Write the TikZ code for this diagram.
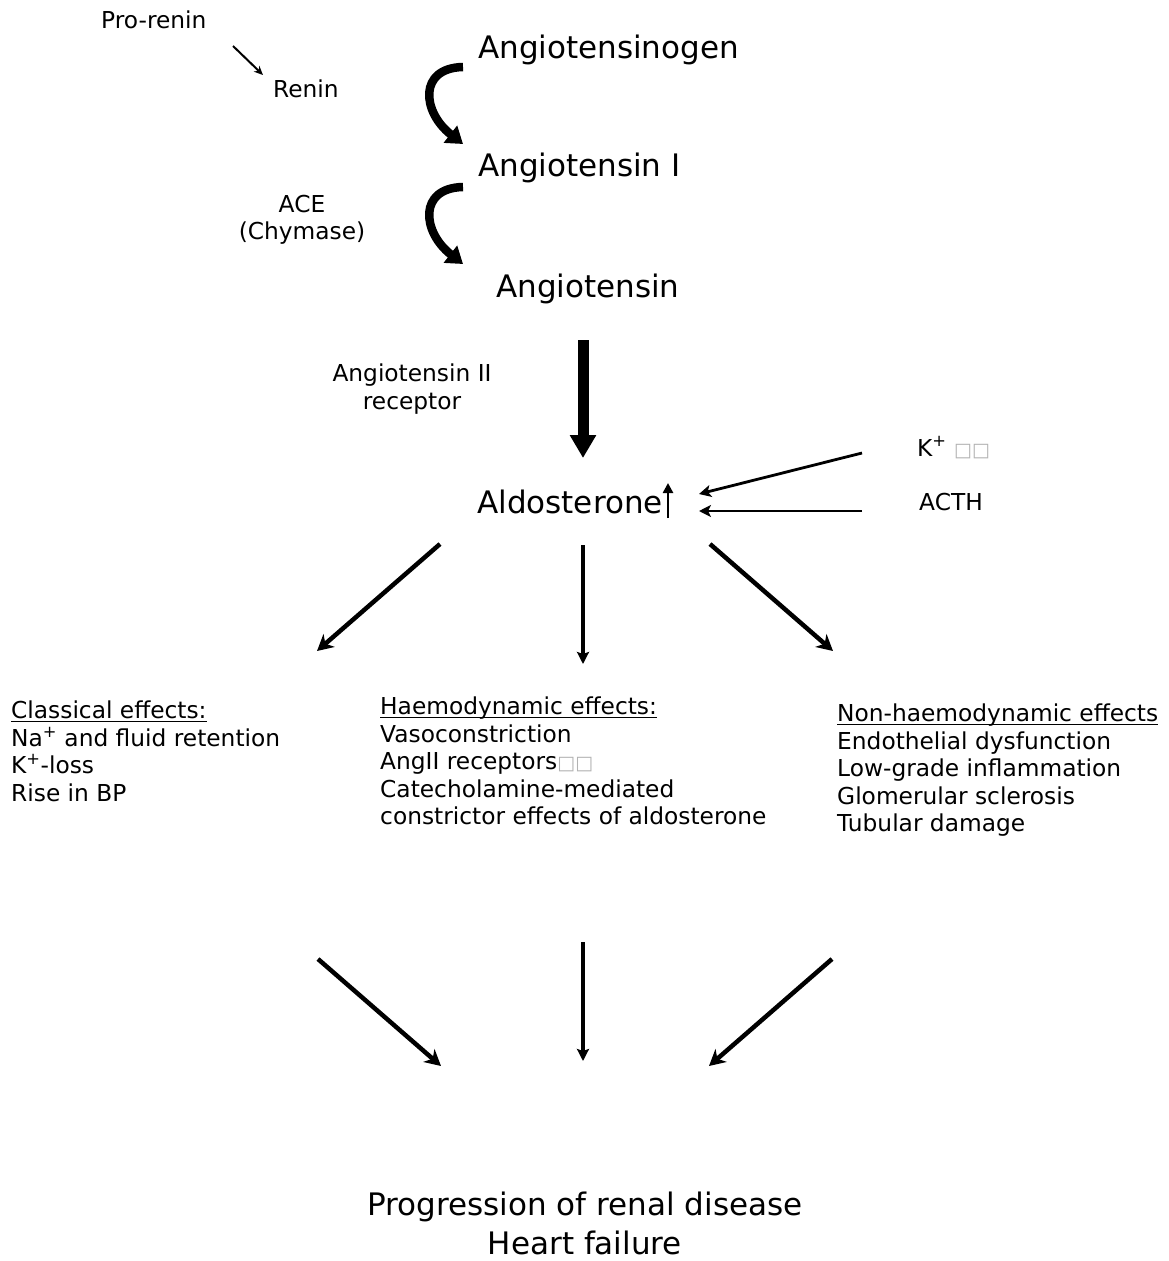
\documentclass[tikz,border=0pt]{standalone}
\usepackage{fontspec}
\setmainfont{DejaVu Sans}
\usepackage{xcolor}
\usepackage{tikz}
\usetikzlibrary{arrows.meta}

\newcommand{\hdr}[1]{\setbox0=\hbox{#1}\rlap{\rule[-3.5pt]{\wd0}{1.8pt}}\box0}
\newcommand{\missing}{{\color{gray!60}\fontsize{19}{19}\selectfont □□}}

\begin{document}
\begin{tikzpicture}[
    x=1pt, y=-1pt,
    bigtxt/.style={font=\fontsize{31}{39}\selectfont, inner sep=0pt},
    smalltxt/.style={font=\fontsize{23.3}{27.4}\selectfont, inner sep=0pt},
    effect/.style={smalltxt, align=left, anchor=north west},
    curved/.style={line width=8.5pt, -{Triangle[length=16pt,width=21pt]}},
    fat/.style={line width=11pt, -{Triangle[length=23pt,width=25pt]}},
    arrow/.style={line width=4.5pt, -{Stealth[length=16pt,width=17pt,inset=5pt]}},
    vert/.style={line width=4pt, -{Stealth[length=12pt,width=12pt,inset=2pt]}},
    feed/.style={line width=2.8pt, -{Stealth[length=12pt,width=12pt,inset=3pt]}},
]
\useasboundingbox (0,0) rectangle (1168,1261);

% --- Cascade
\node[bigtxt, anchor=base west] (agen) at (478,58)  {Angiotensinogen};
\node[bigtxt, anchor=base west] (ang1) at (478,176) {Angiotensin I};
\node[bigtxt, anchor=base west] (ang2) at (496,297) {Angiotensin};
\node[bigtxt, anchor=base west] (aldo) at (477,513) {Aldosterone};

% --- Enzymes and inputs
\node[smalltxt, anchor=base west] (prorenin) at (101,28) {Pro-renin};
\node[smalltxt, anchor=base west] (renin)    at (273,97) {Renin};
\node[smalltxt, align=center, anchor=north] (ace) at (302,195) {ACE\\(Chymase)};
\node[smalltxt, align=center, anchor=north] (rec) at (412,364) {Angiotensin II\\receptor};
\node[smalltxt, anchor=base west] (kplus) at (917,456) {K\textsuperscript{+} \missing};
\node[smalltxt, anchor=base west] (acth)  at (919,510) {ACTH};

% --- Effect blocks
\node[effect] (classic) at (11,701) {\hdr{Classical effects:}\\Na\textsuperscript{+} and fluid retention\\K\textsuperscript{+}-loss\\Rise in BP};
\node[effect] (haemo) at (380,697) {\hdr{Haemodynamic effects:}\\Vasoconstriction\\AngII receptors\missing\\Catecholamine-mediated\\constrictor effects of aldosterone};
\node[effect] (nonhaemo) at (837,704) {\hdr{Non-haemodynamic effects}\\Endothelial dysfunction\\Low-grade inflammation\\Glomerular sclerosis\\Tubular damage};

\node[bigtxt, align=center, anchor=south] (outcome) at (585,1255) {Progression of renal disease\\Heart failure};

% --- Arrow end points
\coordinate (pr1) at (233,46);   \coordinate (pr2) at (263,75);
\coordinate (cv1) at (463,67);   \coordinate (cv2) at (463,144);
\coordinate (cv3) at (463,187);  \coordinate (cv4) at (463,264);
\coordinate (at1) at (583,340);  \coordinate (at2) at (583,458);
\coordinate (up1) at (668,518);  \coordinate (up2) at (668,483);
\coordinate (k1)  at (862,453);  \coordinate (k2)  at (699,494);
\coordinate (h1)  at (862,511);  \coordinate (h2)  at (699,511);
\coordinate (l1)  at (440,544);  \coordinate (l2)  at (317,651);
\coordinate (m1)  at (583,545);  \coordinate (m2)  at (583,664);
\coordinate (r1)  at (710,544);  \coordinate (r2)  at (833,651);
\coordinate (l3)  at (318,959);  \coordinate (l4)  at (441,1066);
\coordinate (m3)  at (583,942);  \coordinate (m4)  at (583,1061);
\coordinate (r3)  at (832,959);  \coordinate (r4)  at (709,1066);

% --- Arrows
\draw[line width=2pt, -{Stealth[length=9pt,width=8pt]}] (pr1) -- (pr2);
\draw[curved] (cv1) .. controls (418,68) and (422,112) .. (cv2);
\draw[curved] (cv3) .. controls (418,188) and (422,232) .. (cv4);
\draw[fat]  (at1) -- (at2);
\draw[line width=2.6pt, -{Triangle[length=10pt,width=10pt]}] (up1) -- (up2);
\draw[feed] (k1) -- (k2);
\draw[feed] (h1) -- (h2);
\draw[arrow] (l1) -- (l2);
\draw[vert]  (m1) -- (m2);
\draw[arrow] (r1) -- (r2);
\draw[arrow] (l3) -- (l4);
\draw[vert]  (m3) -- (m4);
\draw[arrow] (r3) -- (r4);

\end{tikzpicture}
\end{document}
